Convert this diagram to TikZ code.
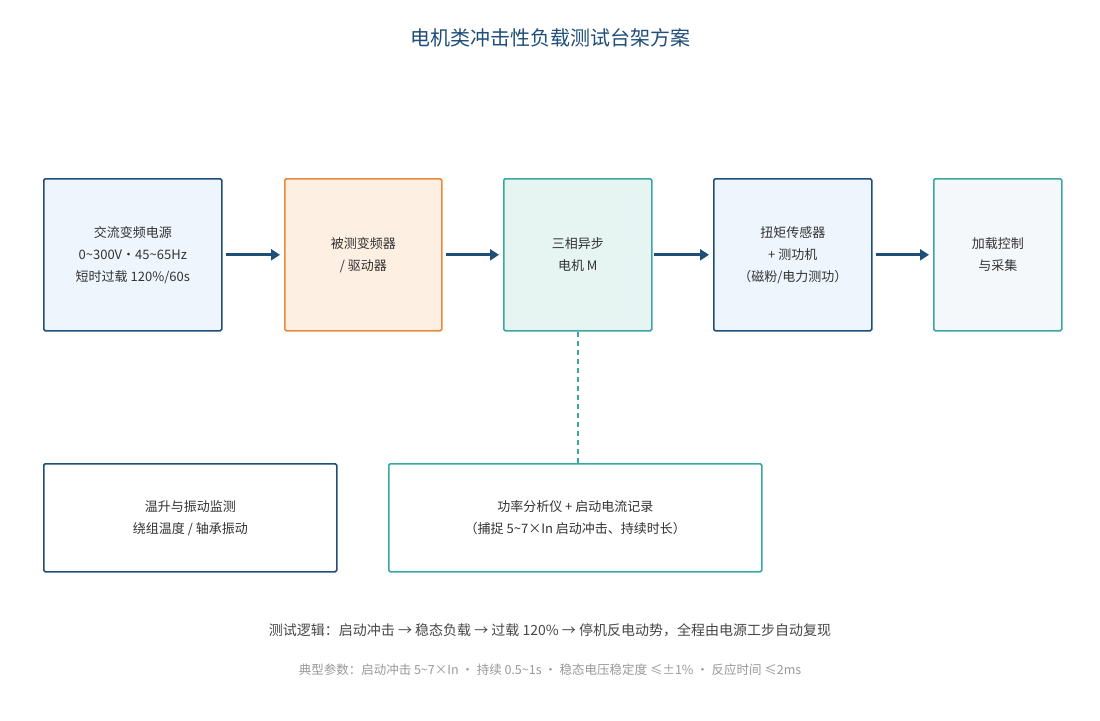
\documentclass[tikz,border=0pt]{standalone}
\usepackage{fontspec}
\setmainfont{Noto Sans CJK SC}
\usetikzlibrary{arrows.meta}
\definecolor{dblue}{HTML}{1F4E79}
\definecolor{teal2}{HTML}{3AA8A0}
\definecolor{orng}{HTML}{E88A3C}
\definecolor{lblue}{HTML}{EEF5FC}
\definecolor{lorng}{HTML}{FDEFE1}
\definecolor{lteal}{HTML}{E6F4F2}
\definecolor{lgray}{HTML}{F5F8FB}
\begin{document}
\begin{tikzpicture}[x=1pt,y=-1pt,
box/.style={draw,line width=1.6pt,rounded corners=1.5pt,align=center,font=\fontsize{13}{22}\selectfont,text=black!80,anchor=north west,inner sep=0pt},
arr/.style={draw=dblue,line width=2.8pt,-{Triangle[length=9pt,width=11pt]}}]
\useasboundingbox[fill=white] (0,0) rectangle (1100,720);
\node[font=\fontsize{20}{22}\selectfont,text=dblue] (t) at (550,38) {电机类冲击性负载测试台架方案};
\node[box,draw=dblue,fill=lblue,minimum width=178pt,minimum height=152pt] (a) at (43,178) {交流变频电源\\0\textasciitilde300V·45\textasciitilde65Hz\\短时过载 120\%/60s};
\node[box,draw=orng,fill=lorng,minimum width=157pt,minimum height=152pt] (b) at (284,178) {被测变频器\\/ 驱动器};
\node[box,draw=teal2,fill=lteal,minimum width=148pt,minimum height=152pt] (c) at (503,178) {三相异步\\电机 M};
\node[box,draw=dblue,fill=lblue,minimum width=158pt,minimum height=152pt] (d) at (713,178) {扭矩传感器\\+ 测功机\\（磁粉/电力测功）};
\node[box,draw=teal2,fill=lgray,minimum width=128pt,minimum height=152pt] (e) at (933,178) {加载控制\\与采集};
\node[box,draw=dblue,fill=white,minimum width=293pt,minimum height=108pt] (f) at (43,463) {温升与振动监测\\绕组温度 / 轴承振动};
\node[box,draw=teal2,fill=white,minimum width=373pt,minimum height=108pt] (g) at (388,463) {功率分析仪 + 启动电流记录\\（捕捉 5\textasciitilde7×In 启动冲击、持续时长）};
\draw[arr] (a.east)++(3,0) -- ([xshift=-4pt]b.west);
\draw[arr] (b.east)++(3,0) -- ([xshift=-4pt]c.west);
\draw[arr] (c.east)++(1,0) -- ([xshift=-4pt]d.west);
\draw[arr] (d.east)++(3,0) -- ([xshift=-4pt]e.west);
\draw[teal2,line width=1.4pt,dash pattern=on 5pt off 4pt] (c.south) -- (c.south |- g.north);
\node[font=\fontsize{14}{16}\selectfont,text=black!72] (l1) at (550,630) {测试逻辑：启动冲击 → 稳态负载 → 过载 120\% → 停机反电动势，全程由电源工步自动复现};
\node[font=\fontsize{12.5}{14}\selectfont,text=black!40] (l2) at (550,670) {典型参数：启动冲击 5\textasciitilde7×In · 持续 0.5\textasciitilde1s · 稳态电压稳定度 ≤±1\% · 反应时间 ≤2ms};
\end{tikzpicture}
\end{document}
